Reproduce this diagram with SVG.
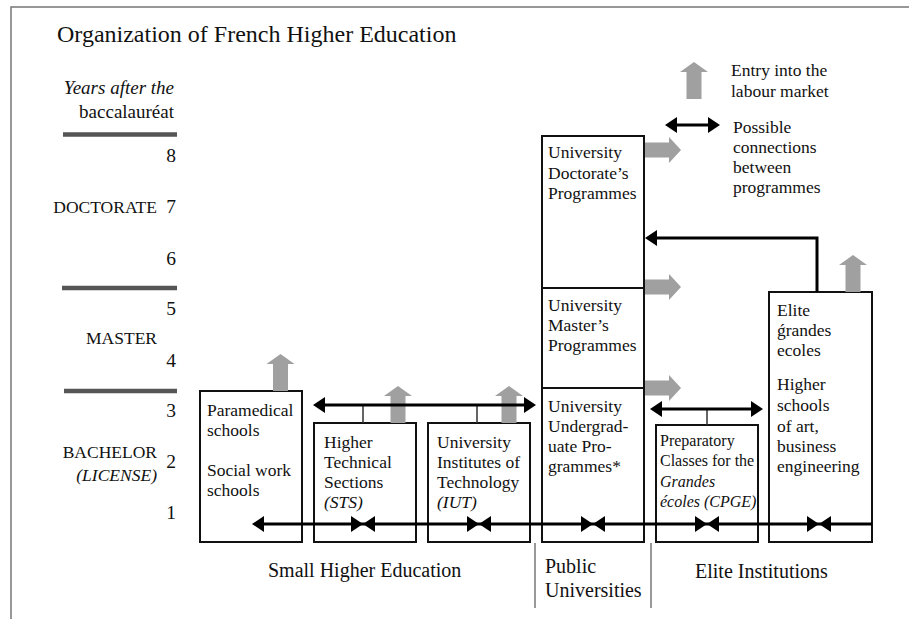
<svg xmlns="http://www.w3.org/2000/svg" width="909" height="619" viewBox="0 0 909 619">
<style>
text{font-family:"Liberation Serif","Times New Roman",serif;fill:#111}
.t{font-size:17.5px}
.s{font-size:16px}
.lab{font-size:17.5px;text-anchor:end}
.num{font-size:19.5px;text-anchor:end}
.grp{font-size:20px}
.it{font-style:italic}
.box{fill:#fff;stroke:#111;stroke-width:2}
.bar{stroke:#555;stroke-width:4.5}
.gr{fill:#a0a0a0}
.con{fill:none;stroke:#000;stroke-width:3}
.sep{stroke:#777;stroke-width:1.5}
.tick{stroke:#333;stroke-width:1.5}
.frame{stroke:#777;stroke-width:1.5;fill:none}
</style>
<defs>
<marker id="ah" viewBox="0 0 12 16" refX="9" refY="8" markerWidth="12" markerHeight="16" markerUnits="userSpaceOnUse" orient="auto-start-reverse">
<path d="M0,0 L12,8 L0,16 z" fill="#000"/>
</marker>
<path id="bow" d="M-12,-8 L0,0 L-12,8 z M12,-8 L0,0 L12,8 z" fill="#000"/>
<polygon id="up" class="gr" points="-7.5,0 -7.5,-27 -14,-27 0,-37 14,-27 7.5,-27 7.5,0"/>
<polygon id="right" class="gr" points="0,-7.5 24,-7.5 24,-13 36,0 24,13 24,7.5 0,7.5"/>
</defs>

<path class="frame" d="M11,619 L11,7 L909,7"/>

<text x="57" y="42" style="font-size:24px">Organization of French Higher Education</text>

<g id="scale">
<text x="174" y="94" class="lab it" style="font-size:19px">Years after the</text>
<text x="174" y="118" class="lab" style="font-size:19px">baccalauréat</text>
<line class="bar" x1="63" y1="134.5" x2="177" y2="134.5"/>
<line class="bar" x1="62" y1="288" x2="177" y2="288"/>
<line class="bar" x1="64" y1="391" x2="177" y2="391"/>
<text x="176" y="162" class="num">8</text>
<text x="176" y="213" class="num">7</text>
<text x="176" y="265" class="num">6</text>
<text x="176" y="315" class="num">5</text>
<text x="176" y="367" class="num">4</text>
<text x="176" y="417" class="num">3</text>
<text x="176" y="468" class="num">2</text>
<text x="176" y="519" class="num">1</text>
<text x="157" y="213" class="lab">DOCTORATE</text>
<text x="157" y="344" class="lab">MASTER</text>
<text x="157" y="458" class="lab">BACHELOR</text>
<text x="157" y="481" class="lab it">(LICENSE)</text>
</g>

<g id="legend">
<use href="#up" x="694" y="99"/>
<text x="731" y="76" class="t">Entry into the</text>
<text x="731" y="97" class="t">labour market</text>
<line class="con" x1="668" y1="125" x2="717" y2="125" marker-start="url(#ah)" marker-end="url(#ah)"/>
<text x="733" y="133" class="t">Possible</text>
<text x="733" y="153" class="t">connections</text>
<text x="733" y="173" class="t">between</text>
<text x="733" y="193" class="t">programmes</text>
</g>

<g id="paramedical">
<rect class="box" x="200" y="391" width="102" height="151"/>
<text x="207" y="416" class="t">Paramedical</text>
<text x="207" y="436" class="t">schools</text>
<text x="207" y="476" class="t">Social work</text>
<text x="207" y="496" class="t">schools</text>
</g>

<g id="sts">
<rect class="box" x="314" y="423" width="102" height="119"/>
<text x="324" y="448" class="t">Higher</text>
<text x="324" y="468" class="t">Technical</text>
<text x="324" y="488" class="t">Sections</text>
<text x="324" y="508" class="t it">(STS)</text>
</g>

<g id="iut">
<rect class="box" x="428" y="423" width="102" height="119"/>
<text x="437" y="448" class="t">University</text>
<text x="437" y="468" class="t">Institutes of</text>
<text x="437" y="488" class="t">Technology</text>
<text x="437" y="508" class="t it">(IUT)</text>
</g>

<g id="doctorate">
<rect class="box" x="542" y="136" width="102" height="152"/>
<text x="548" y="158" class="t">University</text>
<text x="548" y="179" class="t">Doctorate’s</text>
<text x="548" y="199" class="t">Programmes</text>
</g>

<g id="master">
<rect class="box" x="542" y="288" width="102" height="100"/>
<text x="548" y="311" class="t">University</text>
<text x="548" y="331" class="t">Master’s</text>
<text x="548" y="351" class="t">Programmes</text>
</g>

<g id="undergrad">
<rect class="box" x="542" y="388" width="102" height="154"/>
<text x="548" y="412" class="t">University</text>
<text x="548" y="432" class="t">Undergrad-</text>
<text x="548" y="452" class="t">uate Pro-</text>
<text x="548" y="472" class="t">grammes*</text>
</g>

<g id="cpge">
<rect class="box" x="656" y="425" width="102" height="117"/>
<text x="660" y="446" class="s">Preparatory</text>
<text x="660" y="466" class="s">Classes for the</text>
<text x="660" y="487" class="s it">Grandes</text>
<text x="660" y="507" class="s it">écoles (CPGE)</text>
</g>

<g id="elite">
<rect class="box" x="769" y="292" width="103" height="250"/>
<text x="777" y="316" class="t">Elite</text>
<text x="777" y="336" class="t">ǵrandes</text>
<text x="777" y="356" class="t">ecoles</text>
<text x="777" y="390" class="t">Higher</text>
<text x="777" y="411" class="t">schools</text>
<text x="777" y="432" class="t">of art,</text>
<text x="777" y="452" class="t">business</text>
<text x="777" y="472" class="t">engineering</text>
</g>

<g id="connectors">
<use href="#up" x="280.5" y="391"/>
<use href="#up" x="398" y="423"/>
<use href="#up" x="509" y="423"/>
<use href="#up" x="853" y="292"/>
<use href="#right" x="645" y="150"/>
<use href="#right" x="645" y="287"/>
<use href="#right" x="645" y="388"/>

<line class="tick" x1="363" y1="405" x2="363" y2="423"/>
<line class="tick" x1="477" y1="405" x2="477" y2="423"/>
<line class="con" x1="316" y1="405" x2="533" y2="405" marker-start="url(#ah)" marker-end="url(#ah)"/>

<line class="tick" x1="707" y1="409" x2="707" y2="425"/>
<line class="con" x1="653" y1="409" x2="760" y2="409" marker-start="url(#ah)" marker-end="url(#ah)"/>

<polyline class="con" points="817,292 817,238 648,238" marker-end="url(#ah)"/>

<line class="con" x1="255" y1="524" x2="872" y2="524" marker-start="url(#ah)"/>
<use href="#bow" x="363" y="524"/>
<use href="#bow" x="479" y="524"/>
<use href="#bow" x="593" y="524"/>
<use href="#bow" x="707" y="524"/>
<use href="#bow" x="819" y="524"/>
</g>

<g id="groups">
<text x="268" y="577" class="grp">Small Higher Education</text>
<text x="545" y="573" class="grp">Public</text>
<text x="545" y="597" class="grp">Universities</text>
<text x="695" y="578" class="grp">Elite Institutions</text>
<line class="sep" x1="535" y1="543" x2="535" y2="608"/>
<line class="sep" x1="651" y1="543" x2="651" y2="608"/>
</g>
</svg>
